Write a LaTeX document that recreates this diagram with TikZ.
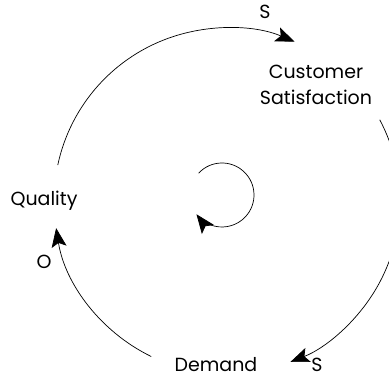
\documentclass[tikz,border=0pt]{standalone}
\usepackage{fontspec}
\setmainfont{Poppins}
\usetikzlibrary{arrows.meta}

\begin{document}
\begin{tikzpicture}
[x=1pt,y=1pt,
  varDecorate/.style={font=\fontsize{19}{26}\selectfont,align=center,inner sep=0pt},%
  signDecorate/.style={font=\fontsize{19}{22}\selectfont,inner sep=0pt},%
  linkDecorate/.style={-{Stealth[length=19pt,width=15pt,inset=4pt]},line width=0.7pt}]
\useasboundingbox (0,0) rectangle (389,379);
%% centre of the loop and of the loop marker
\coordinate (c) at (227,178);
\coordinate (loop) at (222,184);
%% variables
\node (quality) at (44,178) [varDecorate] {Quality};
\node (custsat) at (316,294) [varDecorate] {Customer\\Satisfaction};
\node (demand) at (216,14) [varDecorate] {Demand};
%% polarities
\foreach \nodename/\x/\y/\sign in {
  s1/265/367/S, s2/317/14/S, o1/44/117/O}
{
  \node (\nodename) at (\x,\y) [signDecorate] {\sign};
}
%% link ends on the loop
\foreach \nodename/\angle in {
  q-out/168, cs-out/28, d-out/244}
{
  \coordinate (\nodename) at ([shift={(\angle:173)}]c);
}
%% links
\foreach \startnode/\a/\b in {
  q-out/168/67, cs-out/28/-68.5, d-out/244/189}
{
  \draw[linkDecorate] (\startnode) arc[start angle=\a,end angle=\b,radius=173];
}
%% loop marker
\draw[linkDecorate] ([shift={(137:32)}]loop) arc[start angle=137,end angle=-143,radius=32];
\end{tikzpicture}
\end{document}
